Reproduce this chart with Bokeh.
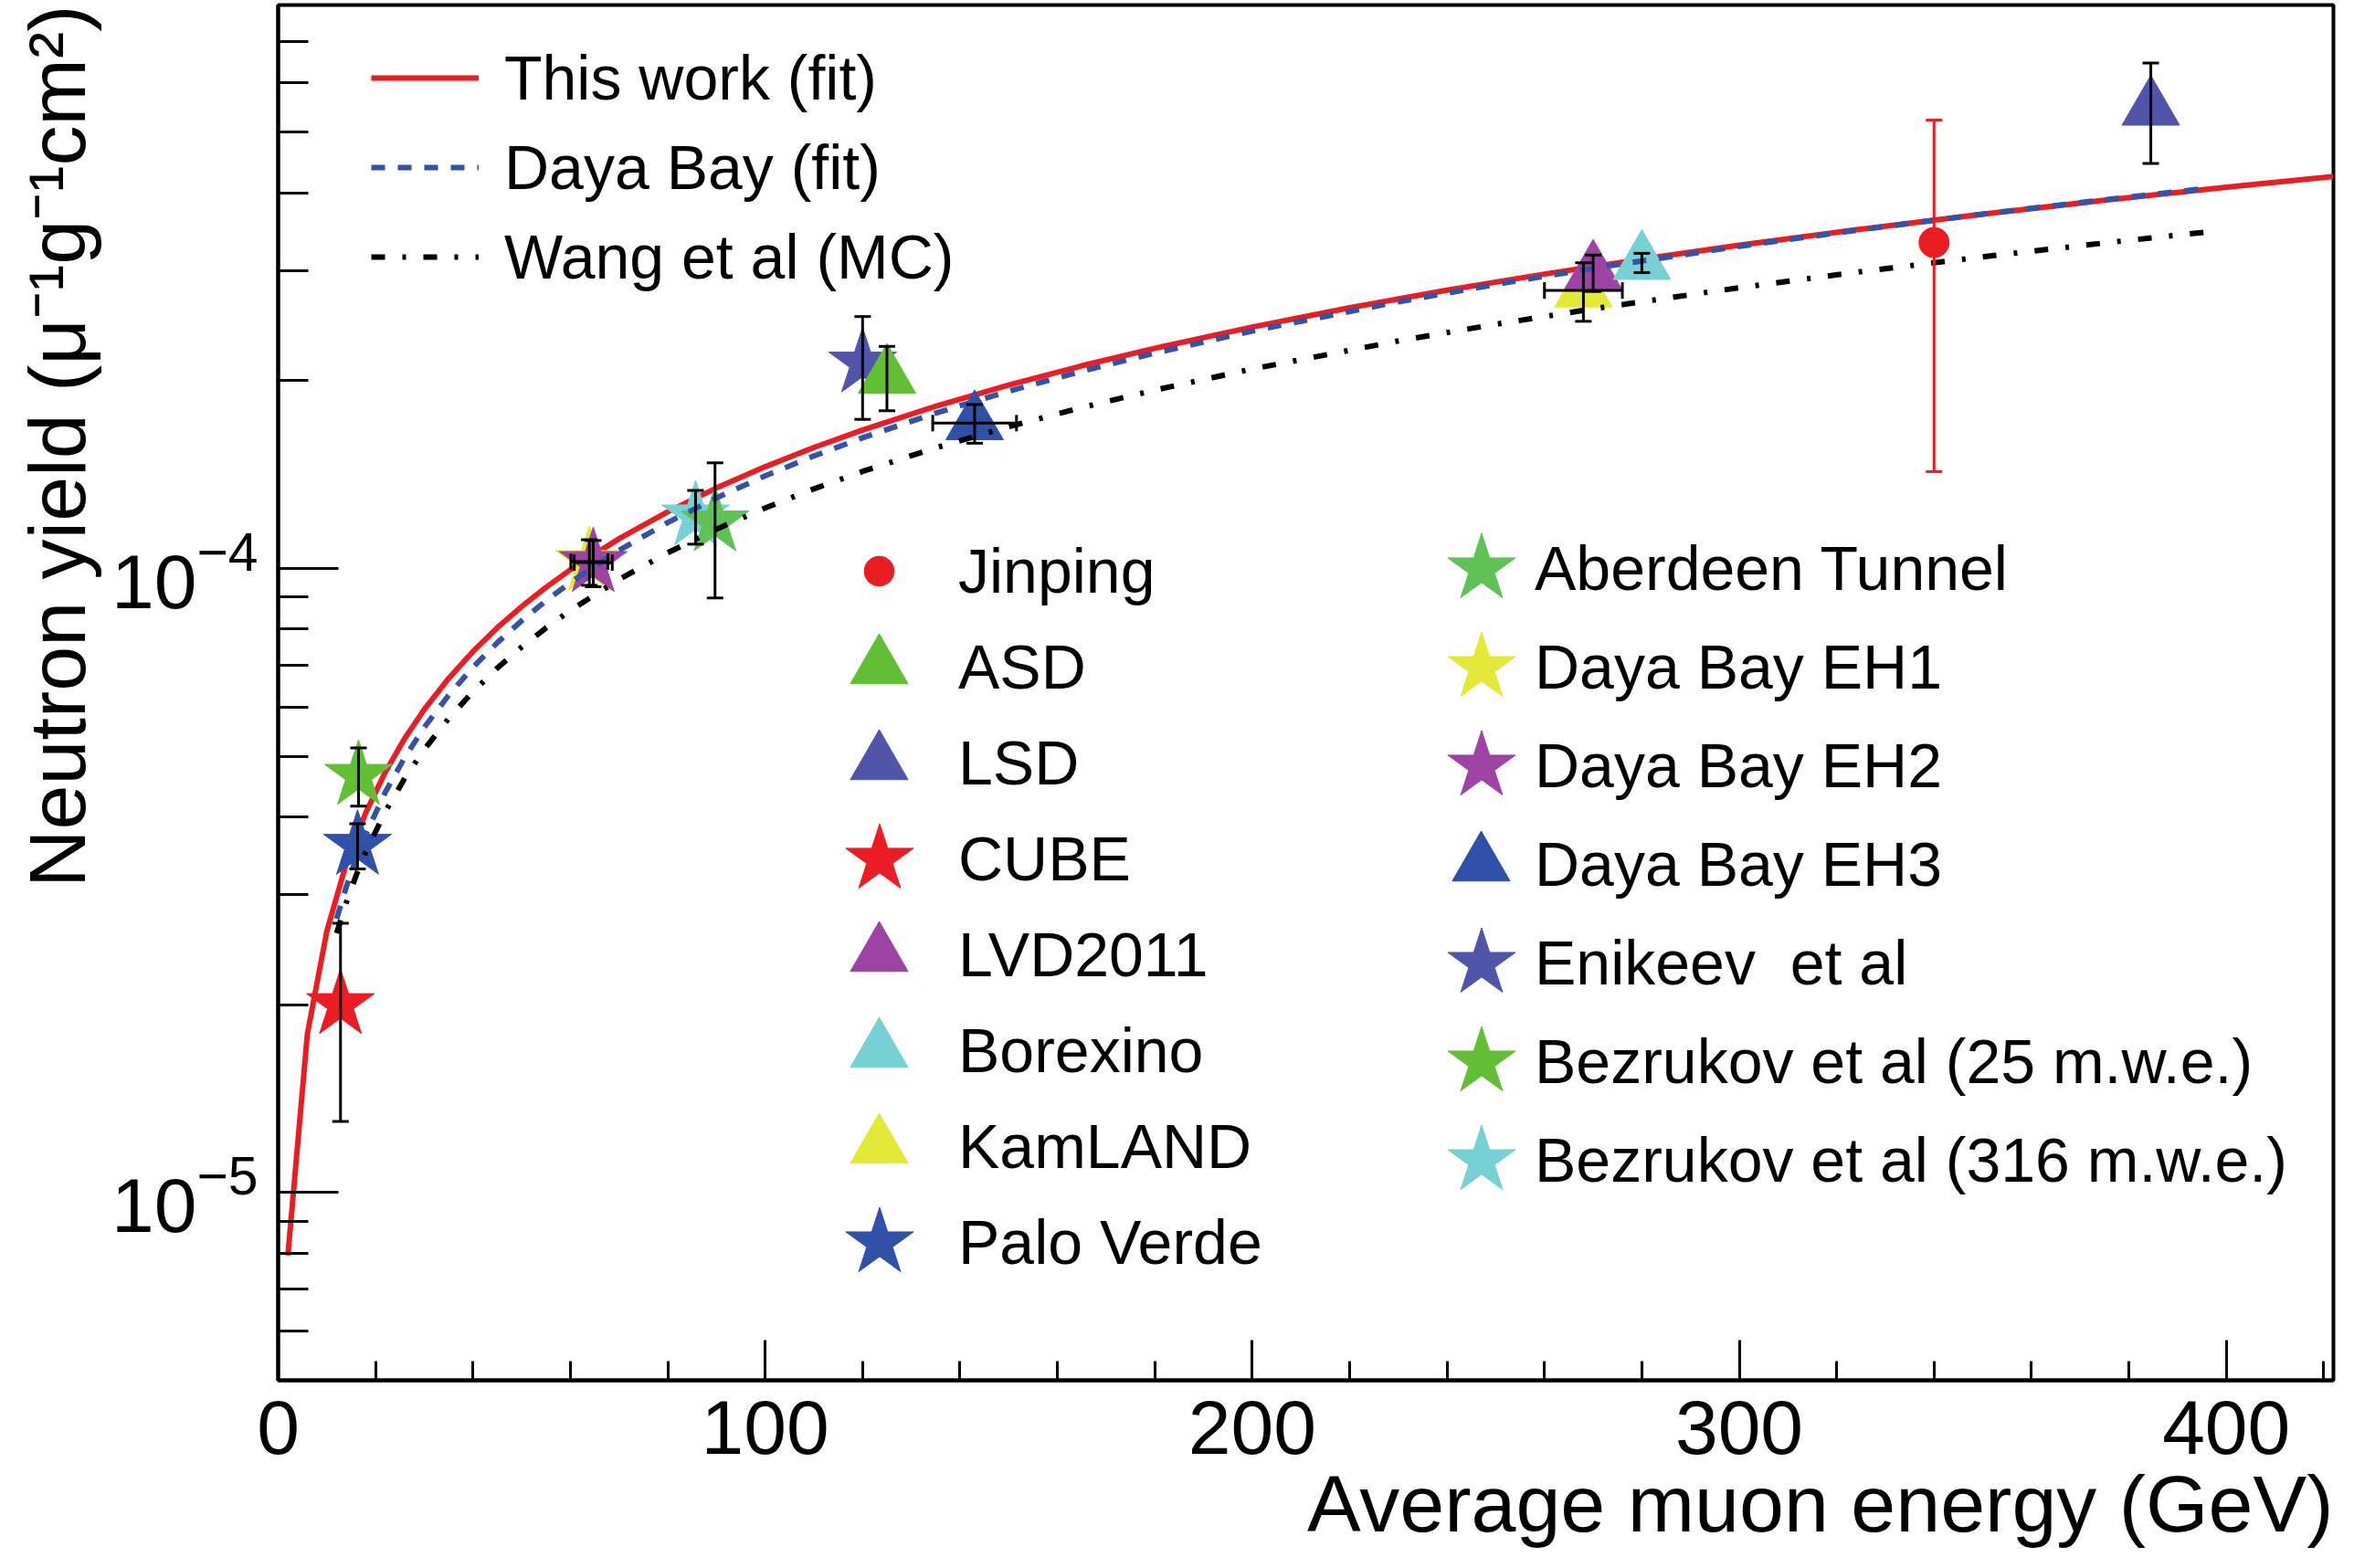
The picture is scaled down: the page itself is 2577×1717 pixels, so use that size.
from bokeh.plotting import figure
from bokeh.models import (ColumnDataSource, Whisker, TeeHead, Legend, LegendItem,
                          FixedTicker, Range1d, Title)
from bokeh.embed import file_html
from bokeh.resources import INLINE

# ---------------- data ----------------
jinping_energy = [340.0]
jinping_yield = [3.33e-4]
jinping_err = [1.9e-4]

names = ["ASD", "LSD", "CUBE", "LVD2011", "Borexino", "KamLAND", "Palo Verde",
         "Aberdeen Tunnel", "Daya Bay EH1", "Daya Bay EH2", "Daya Bay EH3",
         "Enikeev  et al", "Bezrukov et al (25 m.w.e.)", "Bezrukov et al (316 m.w.e.)"]
energy = [125.0, 384.5, 12.8, 270.0, 280.0, 268.0, 16.3,
          89.7, 63.9, 64.7, 143.0,
          120.0, 16.5, 85.7]
yields = [2.03e-4, 5.46e-4, 2.0e-5, 2.98e-4, 3.09e-4, 2.79e-4, 3.60e-5,
          1.187e-4, 1.026e-4, 1.022e-4, 1.71e-4,
          2.134e-4, 4.66e-5, 1.214e-4]
yield_err = [0.24e-4, 1.0e-4, 0.7e-5, 0.2e-4, 0.11e-4, 0.3e-4, 0.3e-5,
             0.29e-4, 0.086e-4, 0.087e-4, 0.122e-4,
             0.4e-4, 0.5e-5, 0.12e-4]
energy_err = [0, 0, 0, 0, 0, 8.0, 0,
              0, 3.8, 3.9, 8.6,
              0, 0, 0]

# fit / MC curves
fit_energy = [2, 6, 10, 14, 18, 22, 26, 30, 35, 40, 45, 50, 55, 60, 70, 80, 90, 100, 110,
              120, 135, 150, 165, 180, 200, 220, 240, 260, 280, 300, 325, 350, 375, 400, 422]
fit_yield = [7.93e-6, 1.795e-5, 2.624e-5, 3.371e-5, 4.064e-5, 4.719e-5, 5.344e-5, 5.944e-5,
             6.666e-5, 7.363e-5, 8.038e-5, 8.692e-5, 9.331e-5, 9.956e-5, 1.1165e-4, 1.2331e-4,
             1.3462e-4, 1.4559e-4, 1.5629e-4, 1.6674e-4, 1.8200e-4, 1.968e-4, 2.1132e-4,
             2.254e-4, 2.4382e-4, 2.6173e-4, 2.7925e-4, 2.9641e-4, 3.1319e-4, 3.297e-4,
             3.4988e-4, 3.697e-4, 3.8920e-4, 4.084e-4, 4.250e-4]
dyb_energy = [12, 14, 16, 18, 22, 26, 30, 35, 40, 45, 50, 55, 60, 70, 80, 90, 100, 110, 120,
              135, 150, 165, 180, 200, 230, 250, 270, 300, 325, 350, 375, 396]
dyb_yield = [2.745e-5, 3.091e-5, 3.4265e-5, 3.752e-5, 4.380e-5, 4.983e-5, 5.563e-5, 6.265e-5,
             6.945e-5, 7.606e-5, 8.249e-5, 8.878e-5, 9.494e-5, 1.0692e-4, 1.1851e-4, 1.2978e-4,
             1.4077e-4, 1.5150e-4, 1.6201e-4, 1.7742e-4, 1.9243e-4, 2.0708e-4, 2.2146e-4,
             2.4022e-4, 2.6755e-4, 2.8532e-4, 3.0276e-4, 3.2836e-4, 3.4925e-4, 3.6978e-4,
             3.8997e-4, 4.0675e-4]
wang_energy = [12, 14, 16, 18, 22, 26, 30, 35, 40, 45, 50, 55, 60, 70, 80, 90, 100, 110, 120,
               135, 150, 165, 180, 200, 230, 250, 270, 300, 325, 350, 375, 397]
wang_yield = [2.603e-5, 2.918e-5, 3.221e-5, 3.515e-5, 4.077e-5, 4.614e-5, 5.130e-5, 5.749e-5,
              6.347e-5, 6.925e-5, 7.486e-5, 8.033e-5, 8.567e-5, 9.603e-5, 1.0600e-4, 1.1566e-4,
              1.2502e-4, 1.3417e-4, 1.4310e-4, 1.5611e-4, 1.6876e-4, 1.8112e-4, 1.9316e-4,
              2.0881e-4, 2.3158e-4, 2.4632e-4, 2.6074e-4, 2.8189e-4, 2.9906e-4, 3.1593e-4,
              3.3249e-4, 3.4683e-4]

line_labels = ["This work (fit)", "Daya Bay (fit)", "Wang et al (MC)"]
x_title = "Average muon energy (GeV)"
y_title = "Neutron yield (\u03bc\u207b\u00b9g\u207b\u00b9cm\u00b2)"
x_major = [0, 100, 200, 300, 400]
x_minor = [20, 40, 60, 80, 120, 140, 160, 180, 220, 240, 260, 280, 320, 340, 360, 380, 420]
y_major = [1e-5, 1e-4]
y_minor = [6e-6, 7e-6, 8e-6, 9e-6, 2e-5, 3e-5, 4e-5, 5e-5, 6e-5, 7e-5, 8e-5, 9e-5,
           2e-4, 3e-4, 4e-4, 5e-4, 6e-4, 7e-4]

# ---------------- styles ----------------
markers = ["triangle", "triangle", "star", "triangle", "triangle", "triangle", "star",
           "star", "star", "star", "triangle", "star", "star", "star"]
colors = ["#62BE35", "#5055AA", "#EC1C24", "#9D43A3", "#77D0D3", "#E3E936", "#3050AA",
          "#60C157", "#E3E936", "#9D43A3", "#3050A8", "#5055AA", "#62BE35", "#77D0D3"]
draw_order = [11, 13, 12, 6, 2, 5, 8, 9, 10, 7, 0, 1, 3, 4]
RED = "#EC1C24"
FONT = "Liberation Sans"
SIZES = {"triangle": 63, "star": 78, "circle": 33}

W, H = 2560, 1712
BL, BR, BT, BB = 304, 6, 5, 201
FRAME_H = H - BT - BB

p = figure(width=W, height=H, y_axis_type="log",
           x_range=Range1d(0, 422), y_range=Range1d(5e-6, 8e-4),
           output_backend="svg", toolbar_location=None,
           min_border_left=BL, min_border_right=BR, min_border_top=BT, min_border_bottom=BB)
p.xgrid.visible = False
p.ygrid.visible = False
p.outline_line_color = "black"
p.outline_line_width = 4
p.outline_line_alpha = 1.0
p.background_fill_color = "white"
p.border_fill_color = "white"

p.xaxis.ticker = FixedTicker(ticks=x_major, minor_ticks=x_minor)
p.yaxis.ticker = FixedTicker(ticks=y_major, minor_ticks=y_minor)
for ax in (p.xaxis[0], p.yaxis[0]):
    ax.axis_line_width = 4
    ax.axis_line_color = "black"
    ax.major_tick_line_width = 3
    ax.minor_tick_line_width = 3
    ax.major_tick_out = 0
    ax.minor_tick_out = 0
    ax.major_label_text_font = FONT
    ax.major_label_text_font_size = "84px"
    ax.major_label_text_color = "black"
p.xaxis.major_tick_in = 44
p.xaxis.minor_tick_in = 21
p.yaxis.major_tick_in = 66
p.yaxis.minor_tick_in = 33
p.xaxis.major_label_standoff = 22
p.yaxis.major_label_standoff = 22

# axis titles: right-aligned below, top-aligned on the left (as in the reference)
tx = Title(text=x_title, align="right", text_font=FONT, text_font_size="88px",
           text_font_style="normal", text_color="black", standoff=0, offset=0)
p.add_layout(tx, "below")
ty = Title(text=y_title, align="right", text_font=FONT, text_font_size="88px",
           text_font_style="normal", text_color="black", standoff=15, offset=0)
p.add_layout(ty, "left")

# ---------------- red fit (under the points) ----------------
r_fit = p.line(fit_energy, fit_yield, line_color=RED, line_width=6)

# ---------------- error bars ----------------
def tee(c="black"):
    return TeeHead(size=18, line_width=3, line_color=c)

src_yerr = ColumnDataSource(dict(
    x=energy,
    upper=[y + e for y, e in zip(yields, yield_err)],
    lower=[y - e for y, e in zip(yields, yield_err)]))
p.add_layout(Whisker(source=src_yerr, base="x", upper="upper", lower="lower", dimension="height",
                     line_color="black", line_width=3, upper_head=tee(), lower_head=tee(),
                     level="glyph"))

xe_idx = [i for i, e in enumerate(energy_err) if e > 0]
src_xerr = ColumnDataSource(dict(
    y=[yields[i] for i in xe_idx],
    upper=[energy[i] + energy_err[i] for i in xe_idx],
    lower=[energy[i] - energy_err[i] for i in xe_idx]))
p.add_layout(Whisker(source=src_xerr, base="y", upper="upper", lower="lower", dimension="width",
                     line_color="black", line_width=3, upper_head=tee(), lower_head=tee(),
                     level="glyph"))

src_jerr = ColumnDataSource(dict(
    x=jinping_energy,
    upper=[y + e for y, e in zip(jinping_yield, jinping_err)],
    lower=[y - e for y, e in zip(jinping_yield, jinping_err)]))
p.add_layout(Whisker(source=src_jerr, base="x", upper="upper", lower="lower", dimension="height",
                     line_color=RED, line_width=3, upper_head=tee(RED), lower_head=tee(RED),
                     level="glyph"))

# black dots underneath the coloured markers
p.scatter(energy, yields, marker="circle", size=28, fill_color="black", line_color="black")

# ---------------- coloured markers ----------------
rend = [None] * len(names)
for i in draw_order:
    rend[i] = p.scatter([energy[i]], [yields[i]], marker=markers[i], size=SIZES[markers[i]],
                        fill_color=colors[i], line_color=colors[i], line_width=1)
r_jin = p.scatter(jinping_energy, jinping_yield, marker="circle", size=SIZES["circle"],
                  fill_color=RED, line_color=RED)

# ---------------- curves on top ----------------
r_dyb = p.line(dyb_energy, dyb_yield, line_color="#3453A8", line_width=6, line_dash="15 14")
r_wang = p.line(wang_energy, wang_yield, line_color="black", line_width=6,
                line_dash="15 19 4 19")


# ---------------- legends ----------------
def add_legend(items, x, y_top, gw, gh, standoff, spacing=0):
    gw, gh = int(round(gw)), int(round(gh))
    n = len(items)
    h = n * gh + (n - 1) * spacing
    lg = Legend(items=items, location=(float(x), float(FRAME_H - y_top - h)),
                orientation="vertical",
                glyph_width=gw, glyph_height=gh, spacing=spacing, label_standoff=standoff,
                padding=0, margin=0, border_line_color=None, background_fill_alpha=0,
                label_text_font=FONT, label_text_font_size="68px", label_text_color="black")
    p.add_layout(lg)
    return lg


# line legend
add_legend([LegendItem(label=line_labels[0], renderers=[r_fit]),
            LegendItem(label=line_labels[1], renderers=[r_dyb]),
            LegendItem(label=line_labels[2], renderers=[r_wang])],
           102, 31, 118, 98, 28)

# marker legends: symbols (one small legend per symbol) + text columns
col1_r = [r_jin] + [rend[i] for i in range(0, 7)]
col1_m = ["circle"] + markers[0:7]
col1_t = ["Jinping"] + names[0:7]
col2_r = [rend[i] for i in range(7, 14)]
col2_m = markers[7:14]
col2_t = names[7:14]

C1X, C1Y, C1P, C1T = 658, 620, 105, 745
C2X, C2Y, C2P, C2T = 1317, 617, 108, 1376

for k, (r, m) in enumerate(zip(col1_r, col1_m)):
    b = int(round(SIZES[m] / 0.4))
    add_legend([LegendItem(label=" ", renderers=[r])], C1X - b / 2, C1Y + k * C1P - b / 2, b, b, 0)
for k, (r, m) in enumerate(zip(col2_r, col2_m)):
    b = int(round(SIZES[m] / 0.4))
    add_legend([LegendItem(label=" ", renderers=[r])], C2X - b / 2, C2Y + k * C2P - b / 2, b, b, 0)

add_legend([LegendItem(label=t, renderers=[r]) for t, r in zip(col1_t, col1_r)],
           C1T, C1Y - C1P / 2, 0, C1P, 0)
add_legend([LegendItem(label=t, renderers=[r]) for t, r in zip(col2_t, col2_r)],
           C2T, C2Y - C2P / 2, 0, C2P, 0)

open("out.html", "w").write(file_html(p, INLINE))
